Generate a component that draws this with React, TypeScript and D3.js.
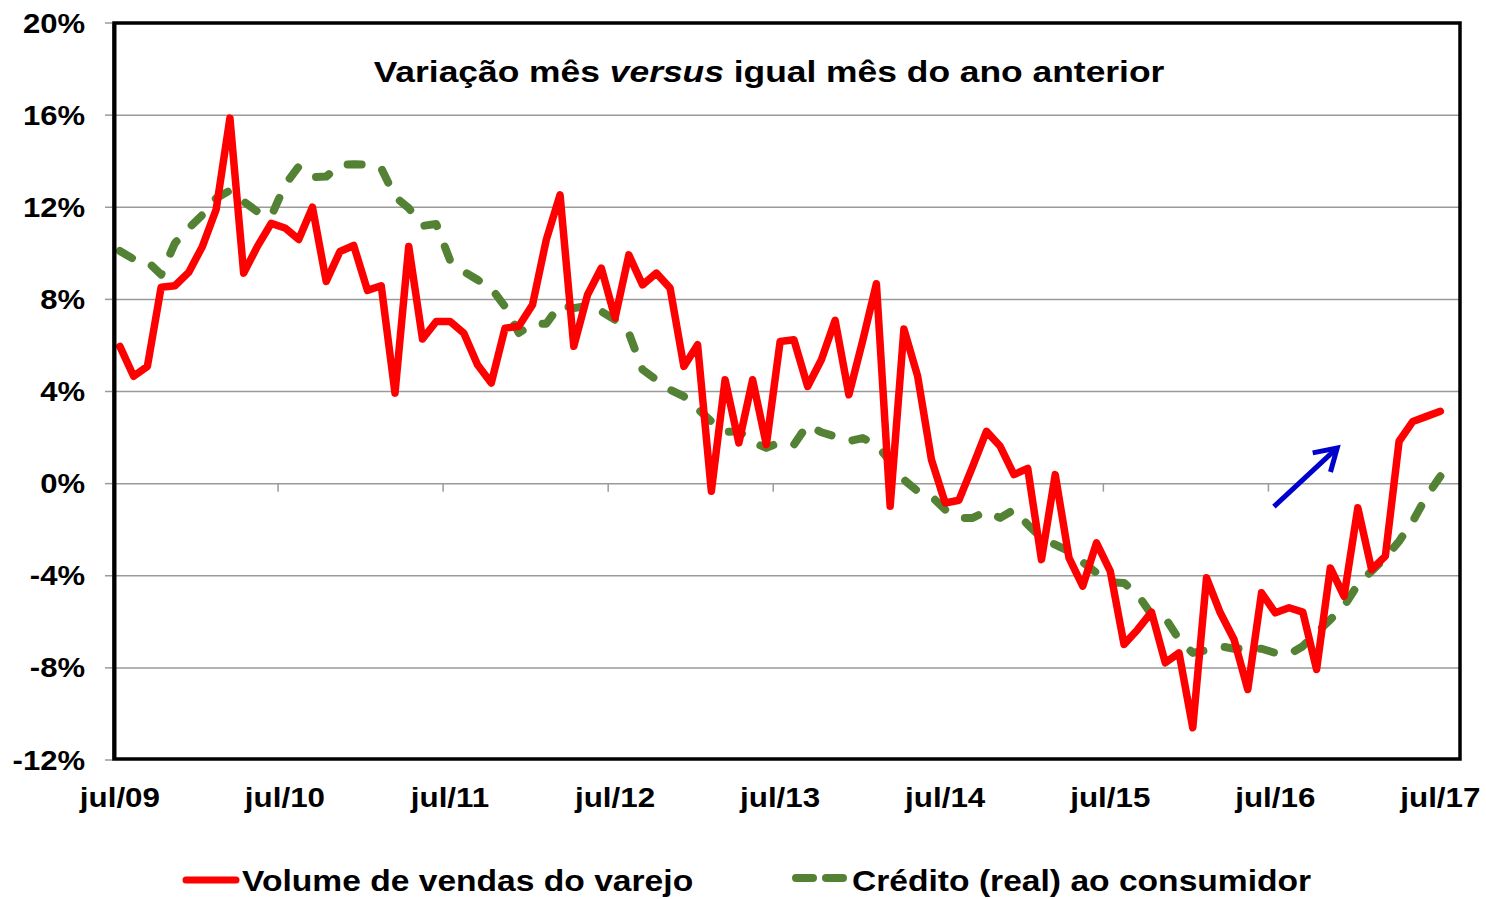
import React from "react";
import * as d3 from "d3";

const xTickLabels = ["jul/09", "jul/10", "jul/11", "jul/12", "jul/13", "jul/14", "jul/15", "jul/16", "jul/17"];
const yTicks = [-12, -8, -4, 0, 4, 8, 12, 16, 20];

// Volume de vendas do varejo (% yoy), monthly jul/09 .. jul/17
const varejo = [
  5.96, 4.66, 5.09, 8.53, 8.59, 9.17, 10.3, 11.9, 15.87, 9.14, 10.3, 11.3,
  11.1, 10.6, 12.0, 8.78, 10.08, 10.34, 8.39, 8.59, 3.93, 10.3, 6.28, 7.04,
  7.04, 6.54, 5.16, 4.37, 6.75, 6.83, 7.77, 10.59, 12.54, 5.96, 8.2, 9.36,
  7.19, 9.93, 8.63, 9.14, 8.49, 5.09, 6.03, -0.33, 4.51, 1.77, 4.51, 1.69,
  6.17, 6.25, 4.22, 5.38, 7.09, 3.86, 6.2, 8.68, -0.98, 6.71, 4.66, 1.04,
  -0.84, -0.72, 0.75, 2.27, 1.62, 0.39, 0.66, -3.3, 0.39, -3.22, -4.45, -2.57,
  -3.8, -6.98, -6.33, -5.58, -7.78, -7.35, -10.6, -4.09, -5.61, -6.77, -8.94, -4.74,
  -5.61, -5.39, -5.58, -8.07, -3.66, -4.89, -1.05, -3.73, -3.15, 1.84, 2.7, 2.92,
  3.14,
];

// Crédito (real) ao consumidor (% yoy)
const credito = [
  10.1, 9.75, 9.65, 9.07, 10.44, 11.09, 11.67, 12.39, 12.73, 12.25, 11.81, 11.6,
  12.97, 13.77, 13.31, 13.33, 13.84, 13.87, 13.84, 13.7, 12.46, 11.96, 11.19, 11.27,
  9.7, 9.21, 8.85, 8.49, 7.69, 6.54, 6.94, 6.94, 7.77, 7.62, 7.72, 7.48,
  7.11, 6.54, 4.95, 4.51, 4.08, 3.79, 3.25, 2.7, 2.25, 2.27, 1.8, 1.55,
  1.8, 1.69, 2.56, 2.23, 2.05, 1.84, 1.98, 1.69, 0.97, 0.17, -0.33, -0.55,
  -1.13, -1.49, -1.49, -1.2, -1.49, -1.13, -1.78, -2.36, -2.65, -2.93, -3.41, -3.87,
  -4.28, -4.31, -4.82, -5.68, -5.83, -6.77, -7.35, -7.23, -7.06, -7.17, -7.13, -7.17,
  -7.35, -7.42, -7.06, -6.48, -5.9, -5.32, -4.38, -3.8, -3.22, -2.5, -1.63, -0.55,
  0.32,
];

const arrowFrom = [83.9, -1.0];
const arrowTo = [88.5, 1.55];

const W = 1486;
const H = 899;
const L = 113;
const R = 1461;
const T = 23;
const B = 760;
const font = "'Liberation Sans', Arial, sans-serif";

function SText({ x, y, sx, anchor, size, children }: any) {
  return (
    <text
      transform={`translate(${x},${y}) scale(${sx},1)`}
      textAnchor={anchor}
      fontFamily={font}
      fontWeight="bold"
      fontSize={size}
      fill="#000"
    >
      {children}
    </text>
  );
}

export default function App() {
  const nCat = 98;
  const x = d3.scaleLinear().domain([-0.5, nCat - 0.5]).range([L, R]);
  const y = d3.scaleLinear().domain([-12, 20]).range([B, T]);
  const line = d3
    .line<number>()
    .x((_, i) => x(i))
    .y((d) => y(d));

  const tickIdx = xTickLabels.map((_, k) => k * 12);

  // arrow
  const ax0 = x(arrowFrom[0]);
  const ay0 = y(arrowFrom[1]);
  const ax1 = x(arrowTo[0]);
  const ay1 = y(arrowTo[1]);
  const ang = Math.atan2(ay0 - ay1, ax0 - ax1);
  const hl = 25;
  const h1 = [ax1 + hl * Math.cos(ang + 0.55), ay1 + hl * Math.sin(ang + 0.55)];
  const h2 = [ax1 + hl * Math.cos(ang - 0.55), ay1 + hl * Math.sin(ang - 0.55)];

  return (
    <svg width={W} height={H} style={{ position: "absolute", left: 0, top: 0, background: "#fff" }}>
      <defs>
        <clipPath id="plotclip">
          <rect x={L + 1} y={T} width={R - L - 2} height={B - T} />
        </clipPath>
      </defs>
      <rect x={0} y={0} width={W} height={H} fill="#fff" />
      {/* gridlines */}
      {yTicks.slice(1, -1).map((t) => (
        <line key={t} x1={L} x2={R} y1={y(t)} y2={y(t)} stroke="#9a9a9a" strokeWidth={1.5} />
      ))}
      {/* y tick marks */}
      {yTicks.map((t) => (
        <line key={"yt" + t} x1={L - 8} x2={L} y1={y(t)} y2={y(t)} stroke="#9a9a9a" strokeWidth={1.5} />
      ))}
      {/* x tick marks on zero axis */}
      {tickIdx.map((i) => (
        <line key={"xt" + i} x1={x(i - 0.5)} x2={x(i - 0.5)} y1={y(0)} y2={y(0) + 8} stroke="#9a9a9a" strokeWidth={1.5} />
      ))}
      {/* lines */}
      <g clipPath="url(#plotclip)">
        <path
          d={line(credito) || ""}
          fill="none"
          stroke="#548235"
          strokeWidth={8}
          strokeDasharray="14 22"
          strokeLinecap="round"
          strokeLinejoin="round"
        />
        <path d={line(varejo) || ""} fill="none" stroke="#ff0000" strokeWidth={7.5} strokeLinejoin="round" strokeLinecap="round" />
      </g>
      {/* frame */}
      <line x1={L} x2={L} y1={T} y2={B} stroke="#9a9a9a" strokeWidth={2} />
      <line x1={L + 2.5} x2={L + 2.5} y1={T} y2={B} stroke="#000" strokeWidth={2} />
      <rect x={L + 1} y={T} width={R - L - 2} height={B - T - 1} fill="none" stroke="#000" strokeWidth={3.5} />
      {/* arrow */}
      <g stroke="#0000cc" strokeWidth={5} fill="none" strokeLinecap="butt">
        <line x1={ax0} y1={ay0} x2={ax1} y2={ay1} />
        <polyline points={`${h1[0]},${h1[1]} ${ax1},${ay1} ${h2[0]},${h2[1]}`} strokeLinejoin="miter" />
      </g>
      {/* title */}
      <SText x={769} y={82} sx={1.18} anchor="middle" size={30}>
        Variação mês <tspan fontStyle="italic">versus</tspan> igual mês do ano anterior
      </SText>
      {/* y labels */}
      {yTicks.map((t) => (
        <SText key={"yl" + t} x={85} y={y(t) + 9.5} sx={1.15} anchor="end" size={27}>
          {t}%
        </SText>
      ))}
      {/* x labels */}
      {tickIdx.map((i, k) => (
        <SText key={"xl" + i} x={x(i)} y={807} sx={1.12} anchor="middle" size={28}>
          {xTickLabels[k]}
        </SText>
      ))}
      {/* legend */}
      <line x1={186} x2={236} y1={880} y2={880} stroke="#ff0000" strokeWidth={7} strokeLinecap="round" />
      <SText x={242} y={891} sx={1.12} anchor="start" size={30}>
        Volume de vendas do varejo
      </SText>
      <line x1={796} x2={846} y1={878} y2={878} stroke="#548235" strokeWidth={8} strokeDasharray="17 13" strokeLinecap="round" />
      <SText x={852} y={891} sx={1.12} anchor="start" size={30}>
        Crédito (real) ao consumidor
      </SText>
    </svg>
  );
}
